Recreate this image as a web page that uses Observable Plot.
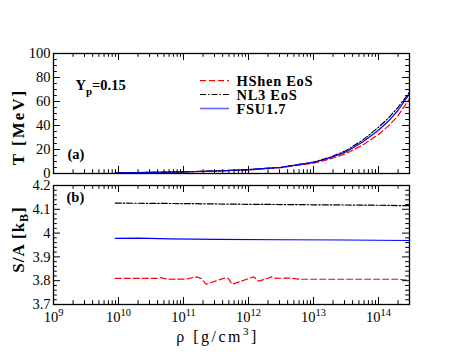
<!DOCTYPE html>
<html><head><meta charset="utf-8">
<script src="https://cdn.jsdelivr.net/npm/d3@7"></script>
<script src="https://cdn.jsdelivr.net/npm/@observablehq/plot@0.6"></script>
<style>
body{margin:0;background:#fff;}
#wrap{position:relative;width:463px;height:358px;font-family:'Liberation Serif','DejaVu Serif',serif;}
#wrap svg{display:block;}
#wrap svg text{font-family:'Liberation Serif','DejaVu Serif',serif;}
#legend{position:absolute;left:0;top:0;}
</style></head>
<body><div id="wrap"></div>
<script>
// Panel (a): temperature T [MeV] vs log10(rho)
const logRhoT = [9.95, 10.5, 11, 11.5, 12, 12.5, 13, 13.25, 13.5, 13.75, 14, 14.15, 14.3, 14.48];
const T_HShen = [0.6, 0.9, 1.4, 2.0, 3.0, 4.9, 8.6, 12, 16.5, 23.5, 32.5, 39.5, 48, 62.5];
const T_NL3   = [0.6, 0.9, 1.4, 2.1, 3.2, 5.2, 9.5, 13.5, 19, 27.5, 38.5, 46, 55, 68];
const T_FSU   = [0.6, 0.9, 1.4, 2.1, 3.2, 5.1, 9.2, 13, 18, 26, 36, 43.5, 52.5, 66.5];

// Panel (b): entropy per baryon S/A [kB]
const logRhoS_HShen = [9.95, 10.3, 10.6, 10.65, 10.75, 11.05, 11.2, 11.27, 11.35, 11.65, 11.69, 11.75, 12.08, 12.16, 12.36, 12.42, 12.65, 12.8, 14.3, 14.48];
const S_HShen = [3.810, 3.810, 3.810, 3.813, 3.806, 3.807, 3.816, 3.810, 3.785, 3.813, 3.809, 3.785, 3.816, 3.798, 3.816, 3.810, 3.811, 3.806, 3.806, 3.802];
const logRhoS_NL3 = [9.95, 10.5, 11, 12, 13, 14, 14.48];
const S_NL3 = [4.126, 4.125, 4.124, 4.121, 4.119, 4.117, 4.115];
const logRhoS_FSU = [9.95, 10.3, 10.8, 11.5, 12.5, 13.5, 14.48];
const S_FSU = [3.978, 3.979, 3.976, 3.974, 3.972, 3.971, 3.969];

const seriesNames = ["HShen EoS", "NL3 EoS", "FSU1.7"];
const seriesColors = ["#ff0000", "#000000", "#0000ff"];
const seriesDash = ["6,3", "6,2,1.5,2", null];

const xDecades = [9, 10, 11, 12, 13, 14];
const xMax = 3e14;
const yTicksT = [0, 20, 40, 60, 80, 100];
const yTicksS = [3.7, 3.8, 3.9, 4, 4.1, 4.2];

const majorX = xDecades.map(e => 10 ** e);
const minorX = [];
xDecades.forEach(e => { for (let m = 2; m <= 9; m++) { const v = m * 10 ** e; if (v < xMax) minorX.push(v); } });
const minorYT = d3.range(0, 100.001, 5).filter(v => v % 20 !== 0);
const minorYS = d3.range(3.7, 4.2001, 0.02).map(v => +v.toFixed(2)).filter(v => Math.abs(v * 10 - Math.round(v * 10)) > 1e-6);

const W = 463, mL = 53, mR = 54;
const FW = W - mL - mR;
const font = "'Liberation Serif', 'DejaVu Serif', serif";

function tbl(xs, ys) { return xs.map((l, i) => ({rho: 10 ** l, v: ys[i]})); }

function tickRules(fh, yMinor, yMajor) {
  const big = 7, small = 3.8;
  return [
    Plot.ruleX(majorX, {x: d => d, insetTop: fh - big, stroke: "black", strokeWidth: 1}),
    Plot.ruleX(majorX, {x: d => d, insetBottom: fh - big, stroke: "black", strokeWidth: 1}),
    Plot.ruleX(minorX, {x: d => d, insetTop: fh - small, stroke: "black", strokeWidth: 1}),
    Plot.ruleX(minorX, {x: d => d, insetBottom: fh - small, stroke: "black", strokeWidth: 1}),
    Plot.ruleY(yMajor, {y: d => d, insetRight: FW - big, stroke: "black", strokeWidth: 1}),
    Plot.ruleY(yMajor, {y: d => d, insetLeft: FW - big, stroke: "black", strokeWidth: 1}),
    Plot.ruleY(yMinor, {y: d => d, insetRight: FW - small, stroke: "black", strokeWidth: 1}),
    Plot.ruleY(yMinor, {y: d => d, insetLeft: FW - small, stroke: "black", strokeWidth: 1})
  ];
}

function lines(sets) {
  return sets.map((data, i) => Plot.line(data, {
    x: "rho", y: "v", stroke: seriesColors[i], strokeWidth: 1.2,
    strokeDasharray: seriesDash[i] || undefined, curve: "linear"
  }));
}

const fmtY = d3.format("~g");
const tickFont = 14.5;

// top panel
const hTop = 180, mTopT = 53, mBotT = 7;
const plotA = Plot.plot({
  width: W, height: hTop, marginTop: mTopT, marginBottom: mBotT, marginLeft: mL, marginRight: mR,
  style: {fontFamily: font, fontSize: "14px", background: "white", color: "black", overflow: "visible"},
  x: {type: "log", domain: [1e9, xMax], axis: null},
  y: {domain: [0, 100], axis: null},
  marks: [
    Plot.axisY({ticks: yTicksT, tickSize: 0, tickPadding: 3, label: null, fontSize: tickFont, tickFormat: fmtY}),
    ...lines([tbl(logRhoT, T_HShen), tbl(logRhoT, T_NL3), tbl(logRhoT, T_FSU)]),
    ...tickRules(hTop - mTopT - mBotT, minorYT, yTicksT),
    Plot.frame({stroke: "black", strokeWidth: 1.3}),
    Plot.text(["T [MeV]"], {frameAnchor: "left", dx: -35, dy: 13.5, rotate: -90, fontWeight: "bold", fontSize: 17, textAnchor: "middle", lineAnchor: "middle"}),
    Plot.text(["Y_p=0.15"], {frameAnchor: "top-left", dx: 22, dy: 36, fontWeight: "bold", fontSize: 14.5, textAnchor: "start", lineAnchor: "bottom"}),
    Plot.text(["(a)"], {frameAnchor: "bottom-left", dx: 14, dy: -15, fontWeight: "bold", fontSize: 14.5, textAnchor: "start", lineAnchor: "bottom"})
  ]
});

// bottom panel
const hBot = 178, mTopB = 5, mBotB = 54;
const plotB = Plot.plot({
  width: W, height: hBot, marginTop: mTopB, marginBottom: mBotB, marginLeft: mL, marginRight: mR,
  style: {fontFamily: font, fontSize: "14px", background: "white", color: "black", overflow: "visible"},
  x: {type: "log", domain: [1e9, xMax], axis: null},
  y: {domain: [3.7, 4.2], axis: null},
  marks: [
    Plot.axisY({ticks: yTicksS, tickSize: 0, tickPadding: 3, label: null, fontSize: tickFont, tickFormat: fmtY}),
    Plot.axisX({ticks: majorX, tickSize: 0, tickPadding: 7, label: null, fontSize: tickFont,
      tickFormat: d => "10^" + Math.round(Math.log10(d))}),
    ...lines([tbl(logRhoS_HShen, S_HShen), tbl(logRhoS_NL3, S_NL3), tbl(logRhoS_FSU, S_FSU)]),
    ...tickRules(hBot - mTopB - mBotB, minorYS, yTicksS),
    Plot.frame({stroke: "black", strokeWidth: 1.3}),
    Plot.text(["S/A [k_B]"], {frameAnchor: "left", dx: -35, dy: -5.5, rotate: -90, fontWeight: "bold", fontSize: 17, textAnchor: "middle", lineAnchor: "middle"}),
    Plot.text(["(b)"], {frameAnchor: "top-left", dx: 13, dy: 16, fontWeight: "bold", fontSize: 14.5, textAnchor: "start", lineAnchor: "bottom"}),
    Plot.text(["ρ [g/cm^3]"], {frameAnchor: "bottom", dx: -14, dy: 37.5, fontSize: 16, textAnchor: "middle", lineAnchor: "bottom"})
  ]
});

const NS = "http://www.w3.org/2000/svg";
function rich(textEl, parts, spacing) {
  textEl.textContent = "";
  if (spacing) textEl.setAttribute("letter-spacing", spacing);
  parts.forEach(([s, dy, size]) => {
    const ts = document.createElementNS(NS, "tspan");
    if (dy) ts.setAttribute("dy", dy);
    if (size) ts.setAttribute("font-size", size);
    ts.textContent = s;
    textEl.appendChild(ts);
  });
}
[plotA, plotB].forEach(svg => svg.querySelectorAll("text").forEach(t => {
  const s = t.textContent;
  if (/^10\^\d+$/.test(s)) {
    const [b, e] = s.split("^");
    rich(t, [[b], [e, "-6", "10.5"]]);
  } else if (s === "Y_p=0.15") {
    rich(t, [["Y"], ["p", "5", "11"], ["=0.15", "-5"]]);
  } else if (s === "S/A [k_B]") {
    rich(t, [["S/A [k"], ["B", "4", "12"], ["]", "-4"]], "1px");
  } else if (s === "T [MeV]") {
    t.setAttribute("letter-spacing", "2px");
  } else if (s === "ρ [g/cm^3]") {
    rich(t, [["ρ [g/cm"], ["3", "-7", "11"], ["]", "7"]], "2.5px");
  }
}));

const wrap = document.getElementById("wrap");
wrap.appendChild(plotA);
wrap.appendChild(plotB);

// legend
const lg = d3.select(wrap).append("svg").attr("id", "legend").attr("width", W).attr("height", 140);
const rowsY = [80.7, 94.5, 108.5];
seriesNames.forEach((n, i) => {
  lg.append("line").attr("x1", 200).attr("x2", 229).attr("y1", rowsY[i]).attr("y2", rowsY[i])
    .attr("stroke", seriesColors[i]).attr("stroke-width", i === 2 ? 1.6 : 1.2)
    .attr("stroke-opacity", i === 2 ? 0.6 : 1)
    .attr("stroke-dasharray", seriesDash[i]);
  lg.append("text").attr("x", 236.5).attr("y", rowsY[i] + 5).text(n)
    .attr("font-family", font).attr("font-weight", "bold").attr("font-size", 14.5)
    .attr("letter-spacing", "0.7px");
});
</script></body></html>
